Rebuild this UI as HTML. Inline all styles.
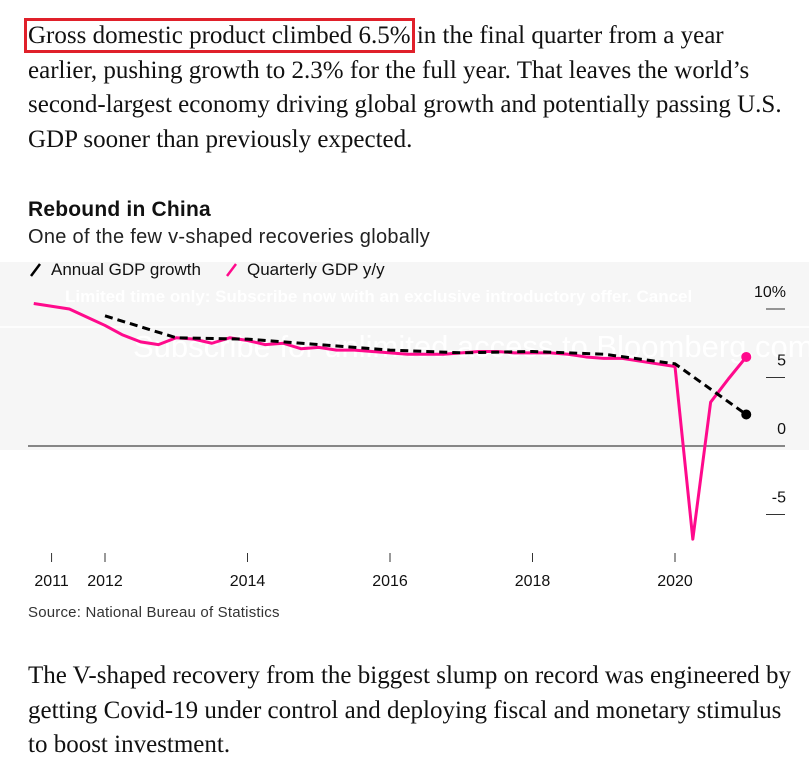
<!DOCTYPE html>
<html><head><meta charset="utf-8"><style>
body{margin:0;width:809px;height:766px;background:#fff;position:relative;overflow:hidden;font-family:"Liberation Sans",sans-serif}
.p{position:absolute;left:28px;font-family:"Liberation Serif",serif;font-size:25px;line-height:34.5px;color:#111;margin:0;width:790px;white-space:nowrap}
</style></head><body>
<p class="p" style="top:19px"><span style="outline:3px solid #e0202a;outline-offset:1px">Gross domestic product climbed 6.5%</span> in the final quarter from a year<br>earlier, pushing growth to 2.3% for the full year. That leaves the world’s<br>second-largest economy driving global growth and potentially passing U.S.<br>GDP sooner than previously expected.</p>
<div style="position:absolute;left:28px;top:198px;font-size:21px;font-weight:bold;color:#111;letter-spacing:0.2px">Rebound in China</div>
<div style="position:absolute;left:28px;top:226px;font-size:20px;color:#222;letter-spacing:0.3px">One of the few v-shaped recoveries globally</div>
<svg id="c" width="809" height="766" style="position:absolute;left:0;top:0"></svg>
<p class="p" style="top:659px">The V-shaped recovery from the biggest slump on record was engineered by<br>getting Covid-19 under control and deploying fiscal and monetary stimulus<br>to boost investment.</p>
<script>
const quarterStart = 2011.0;
const quarterlyValues = [10.4,10.2,10.0,9.4,8.8,8.1,7.6,7.4,7.9,7.8,7.5,7.9,7.7,7.4,7.5,7.1,7.2,7.0,7.0,6.9,6.8,6.7,6.7,6.7,6.8,6.9,6.9,6.8,6.8,6.8,6.7,6.5,6.4,6.4,6.2,6.0,5.8,-6.8,3.2,4.9,6.5];
const annualYears = [2012,2013,2014,2015,2016,2017,2018,2019,2020,2021];
const annualValues = [9.5,7.9,7.8,7.4,7.0,6.8,6.9,6.7,6.0,2.3];
const xTickPos = [2011.25,2012,2014,2016,2018,2020];
const xTickLabels = ["2011","2012","2014","2016","2018","2020"];
const yTicks = [10,5,0,-5];
const yTickLabels = ["10%","5","0","-5"];
const NS="http://www.w3.org/2000/svg";
const svg=document.getElementById('c');
const x=t=>105+(t-2012)*71.25;
const y=v=>446-v*13.7;
function mk(tag,attrs){const e=document.createElementNS(NS,tag);for(const k in attrs)e.setAttribute(k,attrs[k]);svg.appendChild(e);return e;}
let e=mk('rect',{x:0,y:262,width:809,height:188,fill:'#f6f6f6'});


e=mk('line',{x1:0,x2:809,y1:327,y2:327,stroke:'#fff','stroke-width':1.5});


e=mk('text',{x:65,y:302,fill:'#fff','font-size':17,'font-weight':'bold'});e.textContent='Limited time only: Subscribe now with an exclusive introductory offer. Cancel';


e=mk('text',{x:133,y:357,fill:'#fff','font-size':31});e.textContent='Subscribe for unlimited access to Bloomberg.com';


e=mk('line',{x1:31,y1:276,x2:40,y2:264,stroke:'#000','stroke-width':2.5});


e=mk('text',{x:51,y:275,'font-size':17,fill:'#111'});e.textContent='Annual GDP growth';


e=mk('line',{x1:227,y1:276,x2:236,y2:264,stroke:'#ff0a8c','stroke-width':2.5});


e=mk('text',{x:247,y:275,'font-size':17,fill:'#111'});e.textContent='Quarterly GDP y/y';


yTicks.forEach((v,i)=>{
 let l=mk('line',{x1:766,x2:785,y1:y(v),y2:y(v),stroke:'#333','stroke-width':1});
 
 
 let t=mk('text',{x:786,y:y(v)-12,'font-size':16,fill:'#111','text-anchor':'end'});t.textContent=yTickLabels[i];
 
 
});
e=mk('line',{x1:28,x2:785,y1:y(0),y2:y(0),stroke:'#444','stroke-width':1.2});


xTickPos.forEach((t,i)=>{
 let l=mk('line',{x1:x(t),x2:x(t),y1:553,y2:562,stroke:'#333','stroke-width':1});
 
 
 let tx=mk('text',{x:x(t),y:586,'font-size':16,fill:'#111','text-anchor':'middle'});tx.textContent=xTickLabels[i];
 
 
});
const qp=quarterlyValues.map((v,i)=>x(quarterStart+i*0.25)+','+y(v)).join(' ');
e=mk('polyline',{points:qp,fill:'none',stroke:'#ff0a8c','stroke-width':3,'stroke-linejoin':'round'});


const ql=quarterlyValues.length-1;
e=mk('circle',{cx:x(quarterStart+ql*0.25),cy:y(quarterlyValues[ql]),r:5,fill:'#ff0a8c'});


const ap=annualValues.map((v,i)=>x(annualYears[i])+','+y(v)).join(' ');
e=mk('polyline',{points:ap,fill:'none',stroke:'#000','stroke-width':3,'stroke-dasharray':'8,5'});


const al=annualValues.length-1;
e=mk('circle',{cx:x(annualYears[al]),cy:y(annualValues[al]),r:5,fill:'#000'});


e=mk('text',{x:28,y:617,'font-size':15,fill:'#333','letter-spacing':0.2});e.textContent='Source: National Bureau of Statistics';


</script>
</body></html>
